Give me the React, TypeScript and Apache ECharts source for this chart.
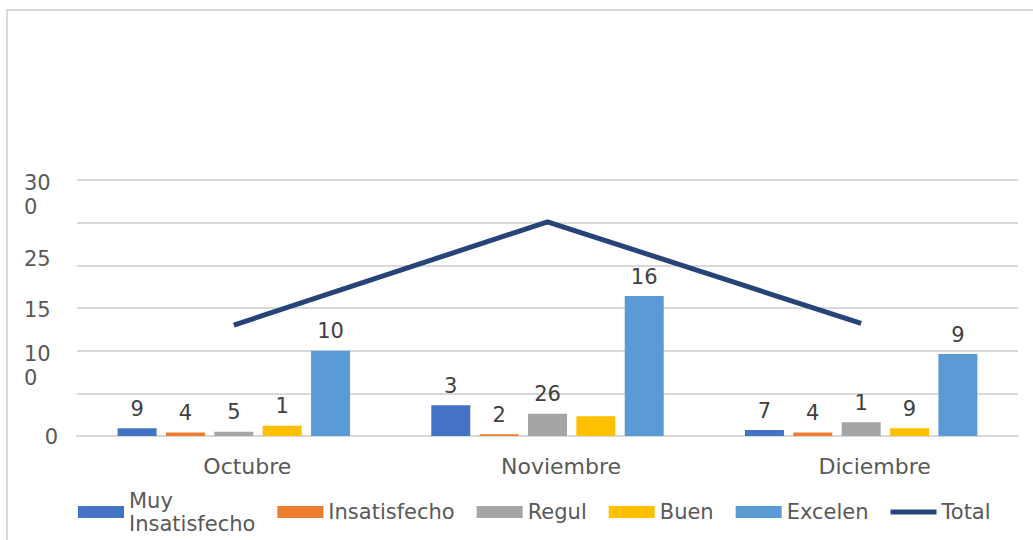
import React, { useEffect, useRef } from 'react';
import * as echarts from 'echarts';

const categories = ['Octubre', 'Noviembre', 'Diciembre'];
const seriesNames = ['Muy\nInsatisfecho', 'Insatisfecho', 'Regul', 'Buen', 'Excelen', 'Total'];

const muyInsatisfecho = [9, 36, 7];
const insatisfecho = [4, 2, 4];
const regular = [5, 26, 16];
const bueno = [12, 23, 9];
const excelente = [100, 164, 96];
const total = [130, 251, 132];

// label texts as printed in the reference (truncated)
const muyLabels = ['9', '3', '7'];
const insLabels = ['4', '2', '4'];
const regLabels = ['5', '26', '1'];
const buenLabels = ['1', '', '9'];
const excLabels = ['10', '16', '9'];

const yTickValues = [300, 250, 150, 100, 0];
const yTickLabels = ['30\n0', '25', '15', '10\n0', '0'];

const FONT = '"DejaVu Sans", sans-serif';
const TEXT = '#595959';
const colors = ['#4472C4', '#ED7D31', '#A5A5A5', '#FFC000', '#5B9BD5', '#264478'];

export default function App() {
  const ref = useRef<HTMLDivElement>(null);
  useEffect(() => {
    const chart = echarts.init(ref.current!, null, { renderer: 'svg' });
    const barData = [muyInsatisfecho, insatisfecho, regular, bueno, excelente];
    const barLabels = [muyLabels, insLabels, regLabels, buenLabels, excLabels];
    const bars = barData.map((d, i) => ({
      name: seriesNames[i],
      type: 'bar',
      data: d,
      barWidth: 39,
      barGap: '24%',
      itemStyle: { color: colors[i] },
      label: {
        show: true,
        position: 'top',
        distance: 9,
        fontSize: 21,
        fontFamily: FONT,
        color: '#404040',
        formatter: (p: any) => barLabels[i][p.dataIndex],
      },
    }));
    chart.setOption({
      animation: false,
      textStyle: { fontFamily: FONT },
      grid: { left: 77, right: 15, top: 180, bottom: 104, containLabel: false },
      legend: {
        left: 73,
        top: 484,
        itemWidth: 46,
        itemHeight: 12,
        itemGap: 22,
        textStyle: { fontSize: 21, color: TEXT, fontFamily: FONT, lineHeight: 23 },
        data: seriesNames.map((n, i) =>
          i === 5 ? { name: n, icon: 'path://M0,0H46V5H0Z' } : { name: n, icon: 'rect' }
        ),
      },
      xAxis: {
        type: 'category',
        data: categories,
        axisTick: { show: false },
        axisLine: { lineStyle: { color: '#D9D9D9', width: 2 } },
        axisLabel: { fontSize: 22, color: TEXT, margin: 19, fontFamily: FONT, padding: [0, 0, 0, 27] },
      },
      yAxis: {
        type: 'value',
        min: 0,
        max: 300,
        interval: 50,
        axisLabel: { show: false },
        axisLine: { show: false },
        axisTick: { show: false },
        splitLine: { lineStyle: { color: '#D9D9D9', width: 2 } },
      },
      series: [
        ...bars,
        {
          name: seriesNames[5],
          type: 'line',
          data: total,
          symbol: 'none',
          showSymbol: false,
          lineStyle: { color: colors[5], width: 5 },
          itemStyle: { color: colors[5] },
        },
      ],
    });
    const ys = yTickValues.map((v) => chart.convertToPixel({ yAxisIndex: 0 }, v) as number);
    const dys = [3, 36, 2, 3, 1];
    const texts = yTickLabels.map((t, i) => {
      const last = i === yTickLabels.length - 1;
      return {
        type: 'text',
        x: last ? 58 : 24,
        y: ys[i] + dys[i] - 12,
        style: {
          text: t,
          font: `21px ${FONT}`,
          fill: TEXT,
          align: last ? 'right' : 'left',
          textAlign: last ? 'right' : 'left',
          verticalAlign: 'top',
          textVerticalAlign: 'top',
          lineHeight: 24,
        },
      };
    });
    chart.setOption({
      graphic: [
        {
          type: 'rect',
          shape: { x: 7, y: 10, width: 1200, height: 700 },
          style: { fill: 'none', stroke: '#D9D9D9', lineWidth: 2 },
          silent: true,
        },
        ...texts,
      ],
    });
    return () => chart.dispose();
  }, []);
  return <div ref={ref} style={{ position: 'absolute', left: 0, top: 0, width: 1033, height: 540 }} />;
}
